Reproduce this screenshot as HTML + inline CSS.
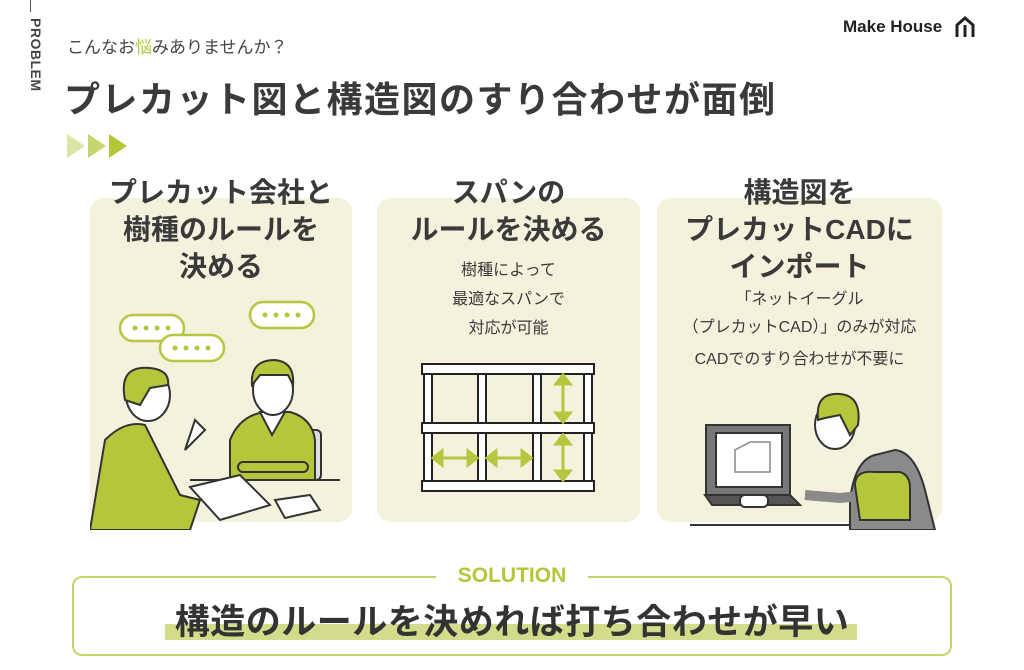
<!DOCTYPE html>
<html><head><meta charset="utf-8">
<style>
body{margin:0;width:1024px;height:670px;background:#fff;position:relative;overflow:hidden;font-family:"Liberation Sans","Noto Sans CJK JP",sans-serif;color:#3a3a3a}
.a{position:absolute}
.card{position:absolute;top:198px;height:324px;background:#f4f2dd;border-radius:14px}
.h{position:absolute;font-weight:bold;font-size:28px;line-height:37px;text-align:center;color:#3a3a3a;white-space:nowrap}
.s{position:absolute;font-size:16px;text-align:center;color:#3a3a3a;white-space:nowrap}
</style></head><body>
<div class="a" style="left:30px;top:0;width:1px;height:12px;background:#555"></div>
<div class="a" style="left:18px;top:18px;width:26px;height:92px;writing-mode:vertical-rl;font-weight:bold;font-size:14px;letter-spacing:0.5px;color:#444">PROBLEM</div>
<div class="a" style="left:67px;top:33px;font-size:17px;color:#444">こんなお<span style="color:#b7c63f">悩</span>みありませんか？</div>
<div class="a" style="left:64px;top:71px;font-size:36px;font-weight:bold;color:#3a3a3a;letter-spacing:1.5px">プレカット図と構造図のすり合わせが面倒</div>
<svg class="a" style="left:67px;top:134px" width="64" height="24"><polygon points="0,0 18,12 0,24" fill="#dde5a6"/><polygon points="21,0 39,12 21,24" fill="#c8d56e"/><polygon points="42,0 60,12 42,24" fill="#b5c63a"/></svg>
<div class="a" style="left:843px;top:17px;font-weight:bold;font-size:17px;color:#222;white-space:nowrap">Make House</div>
<svg class="a" style="left:955px;top:16px" width="20" height="22"><path d="M2,21 V9 L10,2 L18,9 V21" fill="none" stroke="#222" stroke-width="3"/><line x1="10" y1="9" x2="10" y2="21" stroke="#222" stroke-width="3"/></svg>

<div class="card" style="left:90px;width:262px"></div>
<div class="card" style="left:377px;width:263px"></div>
<div class="card" style="left:657px;width:285px"></div>

<div class="h" style="left:90px;width:262px;top:174px">プレカット会社と<br>樹種のルールを<br>決める</div>
<div class="h" style="left:377px;width:263px;top:174px">スパンの<br>ルールを決める</div>
<div class="h" style="left:657px;width:285px;top:174px">構造図を<br>プレカットCADに<br>インポート</div>

<div class="s" style="left:377px;width:263px;top:256px;line-height:29px">樹種によって<br>最適なスパンで<br>対応が可能</div>
<div class="s" style="left:657px;width:285px;top:286px;line-height:28px">「ネットイーグル<br>（プレカットCAD）」のみが対応</div>
<div class="s" style="left:657px;width:285px;top:345px">CADでのすり合わせが不要に</div>

<svg class="a" style="left:420px;top:362px" width="178" height="134">
<g fill="#fff" stroke="#222" stroke-width="2">
<rect x="4" y="10" width="8" height="110"/><rect x="58" y="10" width="8" height="110"/><rect x="113" y="10" width="8" height="110"/><rect x="164" y="10" width="8" height="110"/>
<rect x="2" y="2" width="172" height="10"/><rect x="2" y="61" width="172" height="10"/><rect x="2" y="119" width="172" height="10"/>
</g>
<g stroke="#b7c63f" stroke-width="3" fill="#b7c63f">
<line x1="143" y1="18" x2="143" y2="55"/><polygon points="136,22 150,22 143,13"/><polygon points="136,51 150,51 143,60"/>
<line x1="143" y1="78" x2="143" y2="113"/><polygon points="136,82 150,82 143,73"/><polygon points="136,109 150,109 143,118"/>
<line x1="18" y1="96" x2="52" y2="96"/><polygon points="22,89 22,103 13,96"/><polygon points="48,89 48,103 57,96"/>
<line x1="72" y1="96" x2="106" y2="96"/><polygon points="76,89 76,103 67,96"/><polygon points="102,89 102,103 111,96"/>
</g></svg>

<svg class="a" style="left:90px;top:290px" width="265" height="240">
<g fill="#fff" stroke="#b7c63f" stroke-width="2.5">
<rect x="30" y="25" width="64" height="26" rx="13"/><rect x="70" y="45" width="64" height="26" rx="13"/><rect x="160" y="12" width="64" height="26" rx="13"/>
</g>
<g fill="#b7c63f"><circle cx="45" cy="38" r="2.5"/><circle cx="56" cy="38" r="2.5"/><circle cx="67" cy="38" r="2.5"/><circle cx="78" cy="38" r="2.5"/>
<circle cx="85" cy="58" r="2.5"/><circle cx="96" cy="58" r="2.5"/><circle cx="107" cy="58" r="2.5"/><circle cx="118" cy="58" r="2.5"/>
<circle cx="175" cy="25" r="2.5"/><circle cx="186" cy="25" r="2.5"/><circle cx="197" cy="25" r="2.5"/><circle cx="208" cy="25" r="2.5"/></g>
<g stroke="#333" stroke-width="2">
<rect x="215" y="140" width="16" height="50" rx="5" fill="#ddd"/>
<path d="M140,190 V150 Q150,125 175,122 L200,122 Q222,128 225,150 V190 Z" fill="#b5c63a"/>
<path d="M170,122 L182,145 L195,122 Z" fill="#fff"/>
<ellipse cx="183" cy="100" rx="20" ry="25" fill="#fff"/>
<path d="M162,95 Q160,70 185,70 Q205,72 203,95 L198,85 L170,85 Z" fill="#b5c63a"/>
<rect x="148" y="172" width="70" height="10" rx="5" fill="#b5c63a"/>
<line x1="100" y1="190" x2="250" y2="190"/>
<path d="M0,240 L15,150 Q35,130 55,135 L90,205 L110,210 L100,240 Z" fill="#b5c63a"/>
<ellipse cx="58" cy="105" rx="22" ry="26" fill="#fff"/>
<path d="M35,110 Q28,75 60,78 Q80,80 78,95 L60,98 L50,115 Z" fill="#b5c63a"/>
<path d="M95,160 L105,130 L115,140 Z" fill="#fff"/>
<path d="M100,197 L150,185 L180,215 L130,230 Z" fill="#fff"/>
<path d="M185,210 L220,205 L230,220 L195,228 Z" fill="#fff"/>
</g></svg>

<svg class="a" style="left:690px;top:380px" width="260" height="150">
<g stroke="#333" stroke-width="2">
<rect x="16" y="45" width="84" height="70" fill="#777"/>
<rect x="26" y="53" width="66" height="54" fill="#fff"/>
<path d="M45,85 V70 L60,62 H80 V92 H45 Z" fill="none" stroke="#888" stroke-width="1.5"/>
<path d="M15,115 H100 L110,125 H22 Z" fill="#555"/>
<path d="M160,150 V120 Q165,80 185,75 L205,70 Q225,72 235,110 L245,150 Z" fill="#8a8a8a"/>
<path d="M180,115 L150,118 L115,115" fill="none" stroke-width="10" stroke="#8a8a8a"/>
<ellipse cx="145" cy="45" rx="20" ry="24" fill="#fff"/>
<path d="M128,40 Q125,12 150,14 Q172,16 168,45 L160,55 L150,35 L135,38 Z" fill="#b5c63a"/>
<path d="M165,105 Q165,90 185,92 H210 Q220,95 220,108 V140 H170 Z" fill="#b5c63a"/>
<rect x="50" y="115" width="28" height="12" rx="5" fill="#fff"/>
<line x1="0" y1="145" x2="160" y2="145"/>
</g></svg>

<div class="a" style="left:72px;top:576px;width:876px;height:76px;border:2px solid #c7d46c;border-radius:10px"></div>
<div class="a" style="left:436px;top:562px;width:152px;height:28px;background:#fff;text-align:center;font-weight:bold;font-size:21px;color:#b5c63a;line-height:28px">SOLUTION</div>
<div class="a" style="left:165px;top:624px;width:692px;height:16px;background:#d3dc8a"></div>
<div class="a" style="left:72px;top:594px;width:880px;text-align:center;font-weight:bold;font-size:35px;color:#333;letter-spacing:0.5px">構造のルールを決めれば打ち合わせが早い</div>
</body></html>
